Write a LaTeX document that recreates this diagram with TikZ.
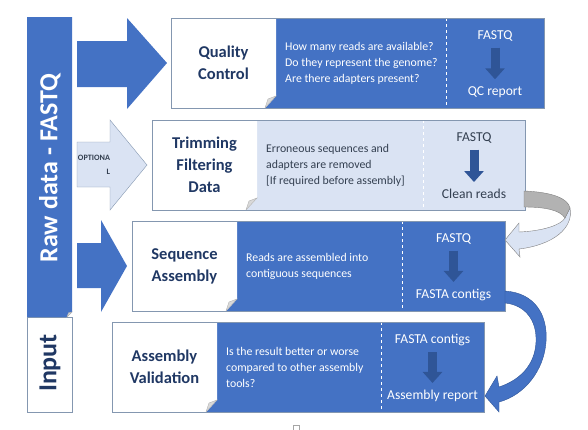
\documentclass[tikz,border=0pt]{standalone}
\usepackage{fontspec}
\setmainfont{Carlito}
\usetikzlibrary{arrows.meta}
\definecolor{mainblue}{HTML}{4472C4}
\definecolor{darkblue}{HTML}{2F5597}
\definecolor{navy}{HTML}{203864}
\definecolor{paleblue}{HTML}{DAE3F3}
\definecolor{edgeblue}{HTML}{8497B0}
\definecolor{slate}{HTML}{333F50}
\begin{document}
\begin{tikzpicture}[x=1pt,y=-1pt,
    title/.style={font=\fontsize{16.5}{22}\selectfont\bfseries, text=navy, align=center},
    body/.style={font=\fontsize{11.8}{16}\selectfont, anchor=west, align=left, inner sep=0pt},
    io/.style={font=\fontsize{13.6}{15}\selectfont, inner sep=0pt},
    downarr/.style={line width=9pt, -{Triangle[length=11pt,width=19pt]}, shorten <=6pt, shorten >=7pt},
    fold/.style={fill=gray!30, draw=gray!60, line width=0.4pt}]
  \useasboundingbox (0,0) rectangle (588,429);
  % side bar
  \draw[edgeblue, fill=white] (27,317) rectangle (72,412);
  \fill[mainblue] (27,17) -- (72,17) -- (72,312) -- (67,317) -- (27,317) -- cycle;
  \draw[fold] (67,317) -- (68.5,312.8) -- (72,312) -- cycle;
  \node[rotate=90, font=\fontsize{26}{30}\selectfont\bfseries, text=white] (raw) at (50,168) {Raw data - FASTQ};
  \node[rotate=90, font=\fontsize{26}{30}\selectfont\bfseries, text=navy] (input) at (50,363) {Input};
  % steps
  \foreach \i/\xl/\yt/\xd/\xr/\back/\ink/\ttl/\txt/\src/\dst in {
      1/171/18/446/544/mainblue/white/{Quality\\Control}/{How many reads are available?\\Do they represent the genome?\\Are there adapters present?}/FASTQ/QC report,
      2/152/120/423/525/paleblue/slate/{Trimming\\Filtering\\Data}/{Erroneous sequences and\\adapters are removed\\{[If required before assembly]}}/FASTQ/Clean reads,
      3/132/221/402/505/mainblue/white/{Sequence\\Assembly}/{Reads are assembled into\\contiguous sequences}/FASTQ/FASTA contigs,
      4/112/322/381/484/mainblue/white/{Assembly\\Validation}/{Is the result better or worse\\compared to other assembly\\tools?}/FASTA contigs/Assembly report} {
    \pgfmathsetmacro\xm{\xl+105}
    \pgfmathsetmacro\yb{\yt+90}
    \fill[\back] (\xm-12,\yt) rectangle (\xr,\yb);
    \draw[white, dashed, line width=0.6pt] (\xd,\yt) -- (\xd,\yb);
    \fill[white] (\xl,\yt) -- (\xm,\yt) -- (\xm,\yb-12) -- (\xm-11,\yb) -- (\xl,\yb) -- cycle;
    \draw[fold] (\xm-11,\yb) -- (\xm-8,\yb-9) -- (\xm,\yb-12) -- cycle;
    \draw[edgeblue] (\xl,\yt) rectangle (\xr,\yb);
    \node[title] (title\i) at ({(\xl+\xm)/2},{(\yt+\yb)/2}) {\ttl};
    \node[body, text=\ink] (body\i) at (\xm+9,{(\yt+\yb)/2}) {\txt};
    \node[io, text=\ink] (in\i) at ({(\xd+\xr)/2},\yt+18) {\src};
    \node[io, text=\ink] (out\i) at ({(\xd+\xr)/2},\yb-16) {\dst};
    \draw[downarr, darkblue] (in\i) -- (out\i);
  }
  % block arrows
  \fill[mainblue] (77,41) -- (127,41) -- (127,18) -- (167,63) -- (127,109) -- (127,87) -- (77,87) -- cycle;
  \fill[mainblue] (77,243) -- (101,243) -- (101,220) -- (127,266) -- (101,312) -- (101,288) -- (77,288) -- cycle;
  \filldraw[fill=paleblue, draw=edgeblue] (77,142) -- (110,142) -- (110,120) -- (147,165) -- (110,210) -- (110,187) -- (77,187) -- cycle;
  \node[font=\fontsize{8.2}{14}\selectfont\bfseries, text=slate, align=right] (opt) at (94,165) {OPTIONA\\L};
  % curved arrows
  \filldraw[fill=paleblue, draw=gray] (570,208) .. controls (574,228) and (553,245) .. (519,249) -- (520,257) -- (505,240) -- (519,223) -- (519,232) .. controls (543,231) and (561,225) .. (565,218) -- cycle;
  \filldraw[fill=gray!60, draw=gray] (524,191) .. controls (551,192) and (568,198) .. (570,208) -- (565,218) .. controls (560,210) and (545,207) .. (524,207) -- cycle;
  \filldraw[fill=mainblue, draw=darkblue] (505,291) .. controls (535,293) and (548,315) .. (546,342) .. controls (544,370) and (525,395) .. (499,402) -- (499,412) -- (485,396) -- (497,376) -- (499,387) .. controls (520,380) and (535,365) .. (536,342) .. controls (537,320) and (525,305) .. (505,303) -- cycle;
  \draw[gray!70] (293.5,425) rectangle (299.5,430);
\end{tikzpicture}
\end{document}
